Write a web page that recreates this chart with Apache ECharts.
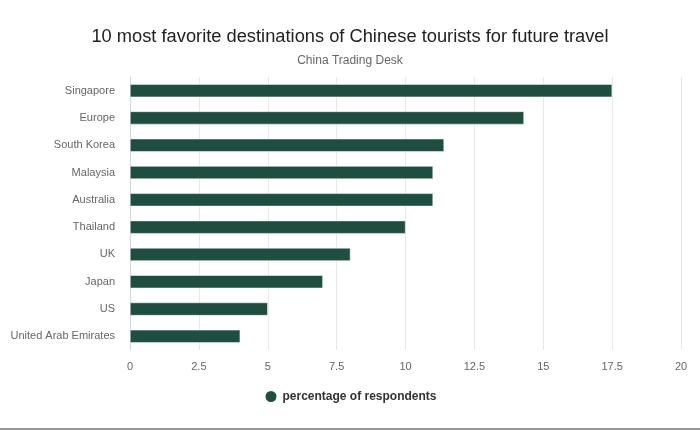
<!DOCTYPE html>
<html>
<head>
<meta charset="utf-8">
<script src="https://cdn.jsdelivr.net/npm/echarts@6/dist/echarts.min.js"></script>
<style>html,body{margin:0;padding:0;background:#fff}#c{width:700px;height:430px}</style>
</head>
<body>
<div id="c"></div>
<script>
const categories = ["Singapore","Europe","South Korea","Malaysia","Australia","Thailand","UK","Japan","US","United Arab Emirates"];
const values = [17.5, 14.3, 11.4, 11, 11, 10, 8, 7, 5, 4];
const xTicks = [0, 2.5, 5, 7.5, 10, 12.5, 15, 17.5, 20];
const seriesName = "percentage of respondents";

const chart = echarts.init(document.getElementById('c'), null, {renderer:'canvas'});
const font = '"Liberation Sans", Arial, sans-serif';
chart.setOption({
  backgroundColor: '#fff',
  textStyle: {fontFamily: font},
  title: {
    text: '10 most favorite destinations of Chinese tourists for future travel',
    subtext: 'China Trading Desk',
    left: 'center', top: 23, itemGap: 9,
    textStyle: {fontSize: 18.3, fontWeight: 'normal', color: '#222', fontFamily: font},
    subtextStyle: {fontSize: 12, color: '#666', fontFamily: font}
  },
  legend: {
    bottom: 21, left: 'center', icon: 'circle', itemWidth: 13, itemHeight: 13,
    textStyle: {fontSize: 12, fontWeight: 'bold', color: '#333', fontFamily: font},
    data: [seriesName]
  },
  grid: {left: 130, right: 19, top: 77, bottom: 80, containLabel: false},
  xAxis: {
    type: 'value', min: 0, max: 20, interval: 2.5,
    axisLine: {show: false}, axisTick: {show: false},
    splitLine: {lineStyle: {color: '#e8e8e8'}},
    axisLabel: {color: '#666', fontSize: 11, margin: 11,
      formatter: v => xTicks.includes(v) ? String(v) : ''}
  },
  yAxis: {
    type: 'category', data: categories, inverse: true,
    axisLine: {show: true, lineStyle: {color: '#ccd6eb'}},
    axisTick: {show: false},
    axisLabel: {color: '#666', fontSize: 11, margin: 15}
  },
  series: [{
    name: seriesName, type: 'bar', data: values, barWidth: 13,
    itemStyle: {color: '#1f4d40', borderColor: '#ffffff', borderWidth: 0.5},
    silent: true
  }],
  graphic: [{
    type: 'rect', left: 0, top: 428, shape: {width: 700, height: 2},
    style: {fill: '#999'}
  }],
  animation: false
});
</script>
</body>
</html>
